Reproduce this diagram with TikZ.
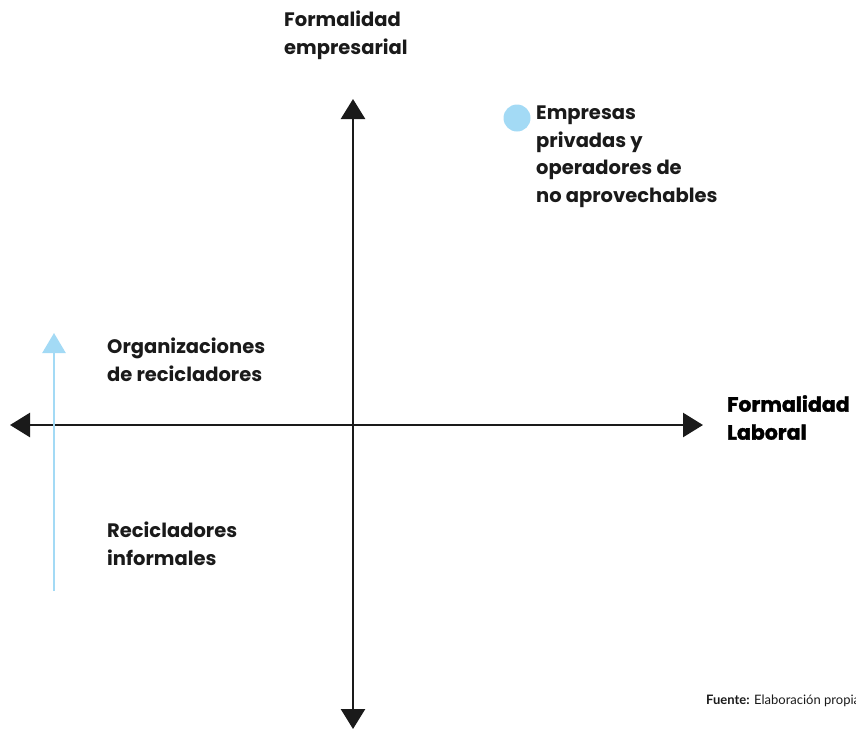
\documentclass[tikz,border=0pt]{standalone}
\usepackage{fontspec}
\setmainfont{Poppins}
\newfontfamily\srcfont{Lato}
\usetikzlibrary{arrows.meta}
\definecolor{lblue}{HTML}{A3DAF5}
\definecolor{axis}{HTML}{1A1A1A}
\tikzset{
  axisline/.style={line width=2.6pt, draw=axis, -{Triangle[length=20pt,width=24pt]}},
  bluearrow/.style={line width=2.6pt, draw=lblue, -{Triangle[length=20pt,width=23pt]}},
  lbl/.style={anchor=north west, align=left, inner sep=0pt, font=\fontsize{19.5}{27.5}\selectfont\bfseries, text=axis},
  heavy/.style={anchor=north west, align=left, inner sep=0pt, font=\fontsize{20.5}{28}\selectfont\bfseries\addfontfeature{FakeBold=1.6}, text=black},
}
\begin{document}
\begin{tikzpicture}[x=1pt,y=-1pt]
\useasboundingbox (0,0) rectangle (856,729);
\coordinate (o) at (353,425);
\coordinate (left) at (10,425);
\coordinate (right) at (703,425);
\coordinate (top) at (353,99);
\coordinate (bottom) at (353,729);
\draw[axisline] (o) -- (left);
\draw[axisline] (o) -- (right);
\draw[axisline] (o) -- (top);
\draw[axisline] (o) -- (bottom);
\coordinate (bstart) at (54,591);
\coordinate (bend) at (54,333);
\draw[bluearrow] (bstart) -- (bend);
\node[circle, fill=lblue, minimum size=27pt, inner sep=0pt] (dot) at (517,118) {};
\node[lbl] (fe) at (284,11) {Formalidad\\empresarial};
\node[lbl] (emp) at (536,106) {Empresas\\privadas y\\operadores de\\no aprovechables};
\node[lbl] (org) at (107,338) {Organizaciones\\de recicladores};
\node[lbl] (rec) at (107,522) {Recicladores\\informales};
\node[heavy] (fl) at (727,395) {Formalidad\\Laboral};
\node[anchor=west, inner sep=0pt, font=\srcfont\fontsize{13}{15}\selectfont, text=axis] (src) at (706,701) {\textbf{Fuente:} Elaboración propia};
\end{tikzpicture}
\end{document}
